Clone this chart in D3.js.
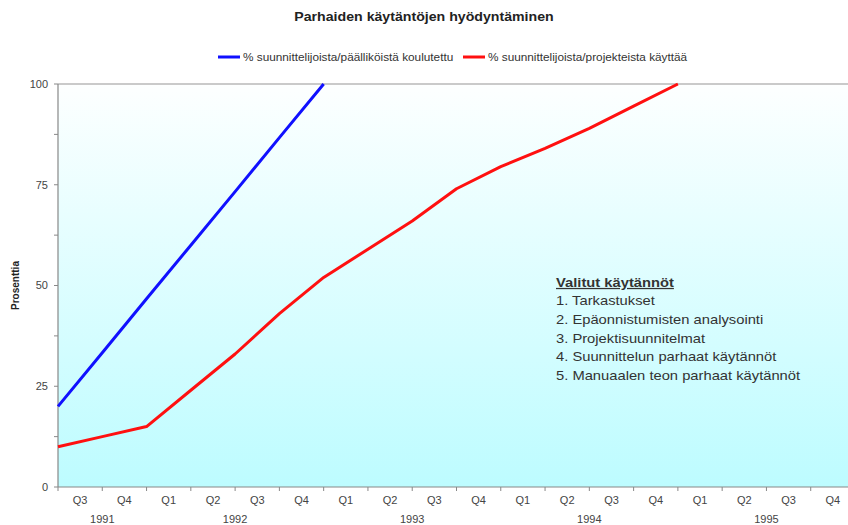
<!DOCTYPE html>
<html><head><meta charset="utf-8">
<script src="https://cdn.jsdelivr.net/npm/d3@7"></script>
<style>
html,body{margin:0;padding:0;background:#fff;}
text{font-family:"Liberation Sans",Arial,sans-serif;}
</style></head>
<body><svg id="c" width="848" height="525"></svg>
<script>
const title = "Parhaiden käytäntöjen hyödyntäminen";
const quarters = ["Q3","Q4","Q1","Q2","Q3","Q4","Q1","Q2","Q3","Q4","Q1","Q2","Q3","Q4","Q1","Q2","Q3","Q4"];
const years = ["1991","1992","1993","1994","1995"];
const yearQuarterCounts = [2,4,4,4,4];
const seriesNames = ["% suunnittelijoista/päälliköistä koulutettu","% suunnittelijoista/projekteista käyttää"];
const seriesColors = ["#1010ff","#ff1010"];
const blueValues = [20, 33.3, 46.7, 60, 73.3, 86.7, 100];
const redValues = [10, 12.5, 15, 24, 33, 43, 52, 59, 66, 74, 79.5, 84, 89, 94.5, 100];
const yTicks = [0, 25, 50, 75, 100];
const yMinorTicks = [0,12.5,25,37.5,50,62.5,75,87.5,100];
const yLabel = "Prosenttia";
const noteTitle = "Valitut käytännöt";
const noteLines = ["1. Tarkastukset","2. Epäonnistumisten analysointi","3. Projektisuunnitelmat","4. Suunnittelun parhaat käytännöt","5. Manuaalen teon parhaat käytännöt"];

const svg = d3.select("#c");
const L = 58, T = 84, B = 487, R = 855;
const SX = 1.18; // horizontal stretch of the source text
const x = d3.scaleLinear().domain([0, quarters.length]).range([L, R]);
const y = d3.scaleLinear().domain([0, 100]).range([B, T]);

const defs = svg.append("defs");
const g = defs.append("linearGradient").attr("id","bg").attr("x1",0).attr("y1",0).attr("x2",0).attr("y2",1);
g.append("stop").attr("offset","0%").attr("stop-color","#fdffff");
g.append("stop").attr("offset","100%").attr("stop-color","#bdfcff");
svg.append("rect").attr("x",L).attr("y",T).attr("width",R-L).attr("height",B-T).attr("fill","url(#bg)");

svg.append("line").attr("x1",L).attr("x2",848).attr("y1",T).attr("y2",T).attr("stroke","#b8b8b8").attr("stroke-width",1.5);

// y axis
svg.append("line").attr("x1",L).attr("x2",L).attr("y1",T).attr("y2",B).attr("stroke","#888").attr("stroke-width",1.2);
svg.selectAll(".ymt").data(yMinorTicks).join("line")
  .attr("x1",L-4).attr("x2",L).attr("y1",d=>y(d)).attr("y2",d=>y(d)).attr("stroke","#888");
svg.selectAll(".ytl").data(yTicks).join("text")
  .attr("x",48).attr("y",d=>y(d)).attr("dy","0.35em").attr("text-anchor","end")
  .attr("font-size",11).attr("fill","#444").text(d=>d);
svg.append("text").attr("transform",`translate(19,${(T+B)/2}) rotate(-90)`).attr("text-anchor","middle")
  .attr("font-size",10).attr("font-weight","bold").attr("fill","#222").text(yLabel);

// x axis
svg.append("line").attr("x1",L).attr("x2",848).attr("y1",B).attr("y2",B).attr("stroke","#888").attr("stroke-width",1.2);
svg.selectAll(".xt").data(d3.range(quarters.length+1)).join("line")
  .attr("x1",d=>x(d)).attr("x2",d=>x(d)).attr("y1",B).attr("y2",B+4).attr("stroke","#888");
svg.selectAll(".xq").data(quarters).join("text")
  .attr("x",(d,i)=>x(i+0.5)).attr("y",504).attr("text-anchor","middle")
  .attr("font-size",11).attr("fill","#444").text(d=>d);
let start = 0;
const yearPos = yearQuarterCounts.map(c=>{const p = start + c/2; start += c; return p;});
svg.selectAll(".yr").data(years).join("text")
  .attr("x",(d,i)=>x(yearPos[i])).attr("y",523).attr("text-anchor","middle")
  .attr("font-size",11).attr("fill","#444").text(d=>d);

// lines
const line = d3.line().x((d,i)=>x(i)).y(d=>y(d));
[blueValues, redValues].forEach((vals,k)=>{
  svg.append("path").datum(vals).attr("d",line).attr("fill","none")
    .attr("stroke",seriesColors[k]).attr("stroke-width",3).attr("stroke-linejoin","round");
});

// title
svg.append("text").attr("transform",`translate(424,21) scale(${SX},1)`).attr("text-anchor","middle")
  .attr("font-size",12).attr("font-weight","bold").attr("fill","#222").text(title);

// legend
const legX = [218, 463];
seriesNames.forEach((n,k)=>{
  svg.append("line").attr("x1",legX[k]).attr("x2",legX[k]+22).attr("y1",57).attr("y2",57)
    .attr("stroke",seriesColors[k]).attr("stroke-width",3);
  svg.append("text").attr("transform",`translate(${legX[k]+25},60.5) scale(${SX},1)`)
    .attr("font-size",10).attr("fill","#333").text(n);
});

// note
const note = svg.append("g").attr("transform",`translate(556,0) scale(${SX},1)`);
note.append("text").attr("x",0).attr("y",287).attr("font-size",12.5).attr("font-weight","bold")
  .attr("fill","#333").attr("text-decoration","underline").text(noteTitle);
note.selectAll(".nl").data(noteLines).join("text")
  .attr("x",0).attr("y",(d,i)=>305+i*18.8).attr("font-size",12.5).attr("fill","#333").text(d=>d);
</script></body></html>
